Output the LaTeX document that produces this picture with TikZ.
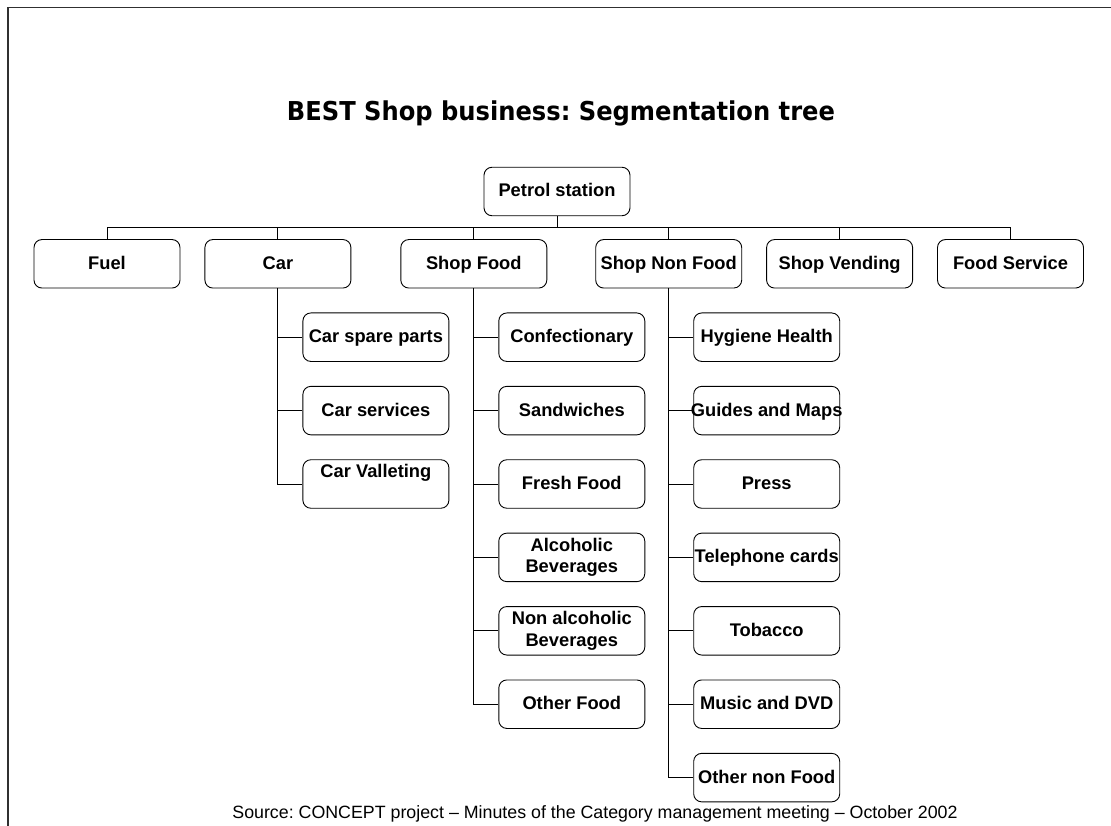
\documentclass[tikz,border=0pt]{standalone}
\usepackage{fontspec}
\setmainfont{Liberation Sans}
\newfontfamily\headfont[FakeStretch=0.93]{DejaVu Sans}
\usetikzlibrary{positioning}
\definecolor{edgegray}{HTML}{303030}
\frenchspacing
% fixed line height so every label sits at the same level
\newcommand{\boxstrut}{\rule[-4pt]{0pt}{19pt}}

\begin{document}
\begin{tikzpicture}[
  x=1pt,y=-1pt,
  node distance=24pt and 24pt,
  seg/.style={draw=black,line width=0.9pt,rounded corners=8pt,minimum width=146pt,minimum height=48.5pt,inner xsep=0pt,inner ysep=0pt,align=center,font=\fontsize{18.3}{21.5}\selectfont\bfseries,execute at begin node=\boxstrut,execute at end node=\boxstrut},
  leaf/.style={seg},
  link/.style={line width=0.9pt,draw=black},
  heading/.style={font=\headfont\fontsize{26}{30}\selectfont\bfseries,anchor=base},
  source/.style={font=\fontsize{17.8}{20}\selectfont,anchor=base}
]
\useasboundingbox (0,0) rectangle (1111,826);
% slide frame, only left and top edges remain
\draw[edgegray,line width=1.3pt] (8,826) -- (8,7.5) -- (1111,7.5);

\node[heading] (title) at (561,120.7) {BEST Shop business: Segmentation tree};

\node[seg] (root) at (557,191.5) {Petrol station};
\coordinate (bus) at (557,227.7);

% first level
\node[seg] (fuel) at (107,263.8) {Fuel};
\node[seg,right=of fuel] (car) {Car};
\node[seg,right=49pt of car] (food) {Shop Food};
\node[seg,right=48pt of food] (nonfood) {Shop Non Food};
\node[seg,right=of nonfood] (vend) {Shop Vending};
\node[seg,right=of vend] (service) {Food Service};

% car branch
\node[leaf,below=24pt of car,xshift=98pt] (spare) {Car spare parts};
\node[leaf,below=of spare] (carserv) {Car services};
\node[leaf,below=of carserv] (valet) {Car Valleting\\~}; % text sits high in its box

% shop food branch
\node[leaf,below=24pt of food,xshift=98pt] (confec) {Confectionary};
\node[leaf,below=of confec] (sandw) {Sandwiches};
\node[leaf,below=of sandw] (fresh) {Fresh Food};
\node[leaf,below=of fresh] (alco) {Alcoholic\\Beverages};
\node[leaf,below=of alco] (nonalco) {Non alcoholic\\Beverages};
\node[leaf,below=of nonalco] (otherfood) {Other Food};

% shop non food branch
\node[leaf,below=24pt of nonfood,xshift=98pt] (hygiene) {Hygiene Health};
\node[leaf,below=of hygiene] (guides) {\makebox[140pt]{Guides and Maps}};
\node[leaf,below=of guides] (press) {Press};
\node[leaf,below=of press] (phone) {\makebox[140pt]{Telephone cards}};
\node[leaf,below=of phone] (tobacco) {Tobacco};
\node[leaf,below=of tobacco] (music) {Music and DVD};
\node[leaf,below=of music] (othernon) {Other non Food};

\node[source] (src) at (595,818) {Source: CONCEPT project – Minutes of the Category management meeting – October 2002};

% root to first level
\draw[link] (root.south) -- (bus);
\draw[link] (fuel.north) -- (fuel.north |- bus) -- (service.north |- bus) -- (service.north);
\draw[link] (car.north) -- (car.north |- bus);
\draw[link] (food.north) -- (food.north |- bus);
\draw[link] (nonfood.north) -- (nonfood.north |- bus);
\draw[link] (vend.north) -- (vend.north |- bus);

% car children
\draw[link] (car.south) |- (valet.west);
\draw[link] (spare.west -| car.south) -- (spare.west);
\draw[link] (carserv.west -| car.south) -- (carserv.west);

% shop food children
\draw[link] (food.south) |- (otherfood.west);
\draw[link] (confec.west -| food.south) -- (confec.west);
\draw[link] (sandw.west -| food.south) -- (sandw.west);
\draw[link] (fresh.west -| food.south) -- (fresh.west);
\draw[link] (alco.west -| food.south) -- (alco.west);
\draw[link] (nonalco.west -| food.south) -- (nonalco.west);

% shop non food children
\draw[link] (nonfood.south) |- (othernon.west);
\draw[link] (hygiene.west -| nonfood.south) -- (hygiene.west);
\draw[link] (guides.west -| nonfood.south) -- (guides.west);
\draw[link] (press.west -| nonfood.south) -- (press.west);
\draw[link] (phone.west -| nonfood.south) -- (phone.west);
\draw[link] (tobacco.west -| nonfood.south) -- (tobacco.west);
\draw[link] (music.west -| nonfood.south) -- (music.west);
\end{tikzpicture}
\end{document}
